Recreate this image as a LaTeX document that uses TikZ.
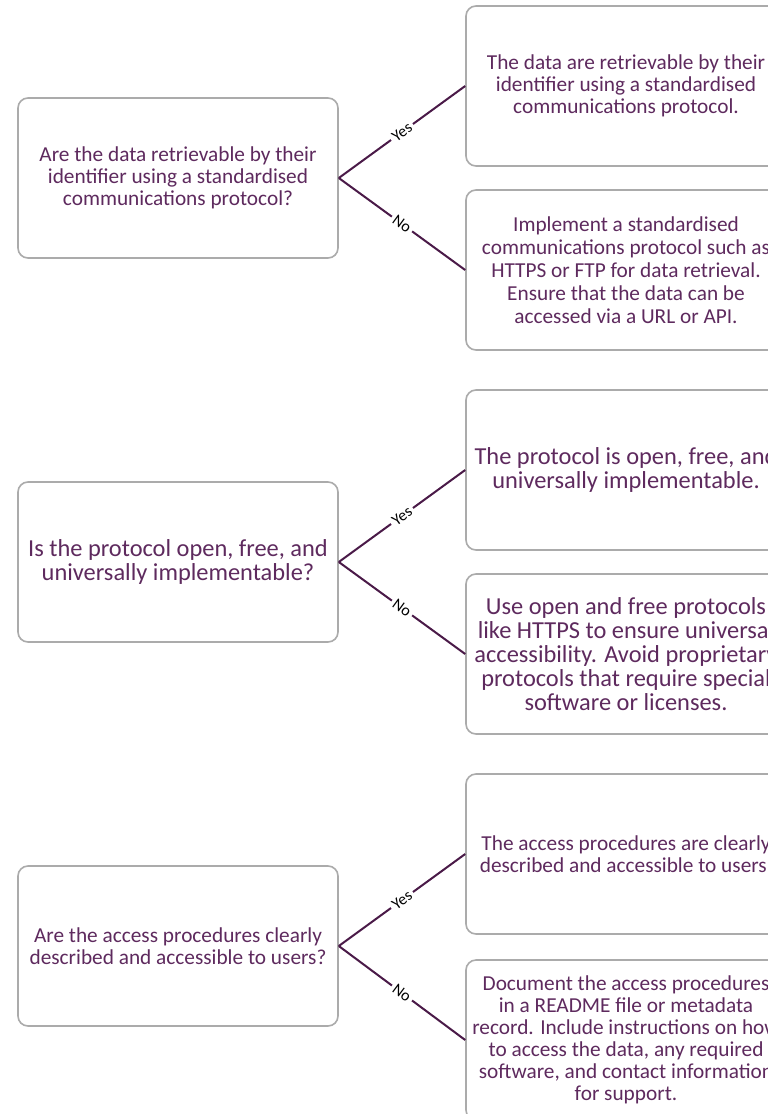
\documentclass[tikz,border=0pt]{standalone}
\usepackage{fontspec}
\setmainfont{Carlito}
\definecolor{txtpurple}{HTML}{5E2A5E}
\definecolor{linepurple}{HTML}{4A1A48}
\definecolor{boxgray}{HTML}{ABABAB}
\tikzset{
  box/.style={draw=boxgray, line width=1.6pt, rounded corners=10pt, minimum width=320pt, minimum height=160pt, align=center, text=txtpurple, inner sep=2pt},
  conn/.style={draw=linepurple, line width=2pt},
  lbl/.style={midway, sloped, fill=white, text=black, inner sep=3pt, font=\fontsize{16}{17}\selectfont},
  fa/.style={font=\fontsize{21.3}{22}\selectfont},
  fb/.style={font=\fontsize{24.4}{24.5}\selectfont},
  fc/.style={font=\fontsize{21.3}{22}\selectfont},
}
\begin{document}
\begin{tikzpicture}[x=1pt,y=-1pt]
\useasboundingbox (0,0) rectangle (768,1114);
\clip (0,0) rectangle (768,1114);
\fill[white] (0,0) rectangle (768,1114);
% group 1
\node[box,fa] (q1) at (178,178) {Are the data retrievable by their\\identifier using a standardised\\communications protocol?};
\node[box,fa] (y1) at (626,86) {The data are retrievable by their\\identifier using a standardised\\communications protocol.};
\node[box,font=\fontsize{21.3}{23}\selectfont] (n1) at (626,270) {Implement a standardised\\communications protocol such as\\HTTPS or FTP for data retrieval.\\Ensure that the data can be\\accessed via a URL or API.};
\draw[conn] (q1.east) -- node[lbl]{Yes} (y1.west);
\draw[conn] (q1.east) -- node[lbl]{No} (n1.west);
% group 2
\node[box,fb] (q2) at (178,562) {Is the protocol open, free, and\\universally implementable?};
\node[box,fb] (y2) at (626,470) {The protocol is open, free, and\\universally implementable.};
\node[box,font=\fontsize{24.4}{24}\selectfont] (n2) at (626,654) {Use open and free protocols\\like HTTPS to ensure universal\\accessibility. Avoid proprietary\\protocols that require special\\software or licenses.};
\draw[conn] (q2.east) -- node[lbl]{Yes} (y2.west);
\draw[conn] (q2.east) -- node[lbl]{No} (n2.west);
% group 3
\node[box,fc] (q3) at (178,946) {Are the access procedures clearly\\described and accessible to users?};
\node[box,fc] (y3) at (626,854) {The access procedures are clearly\\described and accessible to users.};
\node[box,fc] (n3) at (626,1040) {Document the access procedures\\in a README file or metadata\\record. Include instructions on how\\to access the data, any required\\software, and contact information\\for support.};
\draw[conn] (q3.east) -- node[lbl]{Yes} (y3.west);
\draw[conn] (q3.east) -- node[lbl]{No} (n3.west);
\end{tikzpicture}
\end{document}
